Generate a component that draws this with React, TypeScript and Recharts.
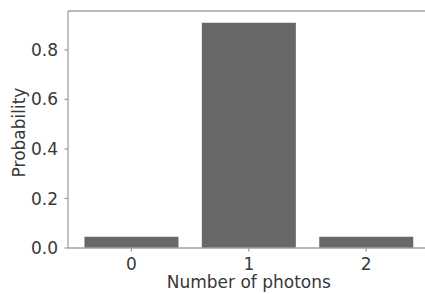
import { BarChart, Bar, XAxis, YAxis, Label, ReferenceLine } from "recharts";

const photons = ["0", "1", "2"];
const probability = [0.045, 0.91, 0.045];
const yTicks = [0, 0.2, 0.4, 0.6, 0.8];
const yMax = 0.957;

const data = photons.map((n, i) => ({ n, p: probability[i] }));

const axisColor = "#a0a0a0";
const textColor = "#383838";
const font = "DejaVu Sans, sans-serif";

export default function App() {
  return (
    <div style={{ position: "absolute", left: 0, top: 0, width: 425, height: 294, overflow: "hidden", background: "#fff" }}>
      <BarChart
        width={440}
        height={294}
        data={data}
        margin={{ top: 11, right: 10.4, left: 0, bottom: 0 }}
        barCategoryGap="10%"
        style={{ fontFamily: font }}
      >
        <XAxis
          dataKey="n"
          height={46}
          padding={{ left: 4.7, right: 4.7 }}
          stroke={axisColor}
          strokeWidth={1.3}
          tickSize={3.5}
          tickMargin={6}
          tick={{ fontSize: 17, fill: textColor, fontFamily: font }}
        >
          <Label
            content={({ viewBox }: any) => (
              <text
                x={viewBox.x + viewBox.width / 2}
                y={288}
                textAnchor="middle"
                fontSize={17}
                fill={textColor}
                fontFamily={font}
              >
                Number of photons
              </text>
            )}
          />
        </XAxis>
        <YAxis
          width={68}
          domain={[0, yMax]}
          ticks={yTicks}
          tickFormatter={(v: number) => v.toFixed(1)}
          stroke={axisColor}
          strokeWidth={1.3}
          tickSize={3.5}
          tickMargin={6.5}
          tick={{ fontSize: 17, fill: textColor, fontFamily: font }}
        >
          <Label
            content={({ viewBox }: any) => {
              const cx = 18.5;
              const cy = viewBox.y + viewBox.height / 2 + 3;
              return (
                <text
                  x={cx}
                  y={cy}
                  transform={`rotate(-90 ${cx} ${cy})`}
                  textAnchor="middle"
                  dominantBaseline="central"
                  fontSize={17}
                  fill={textColor}
                  fontFamily={font}
                >
                  Probability
                </text>
              );
            }}
          />
        </YAxis>
        <ReferenceLine y={yMax} stroke={axisColor} strokeWidth={1.3} ifOverflow="extendDomain" />
        <Bar dataKey="p" fill="#686868" isAnimationActive={false} />
      </BarChart>
    </div>
  );
}
